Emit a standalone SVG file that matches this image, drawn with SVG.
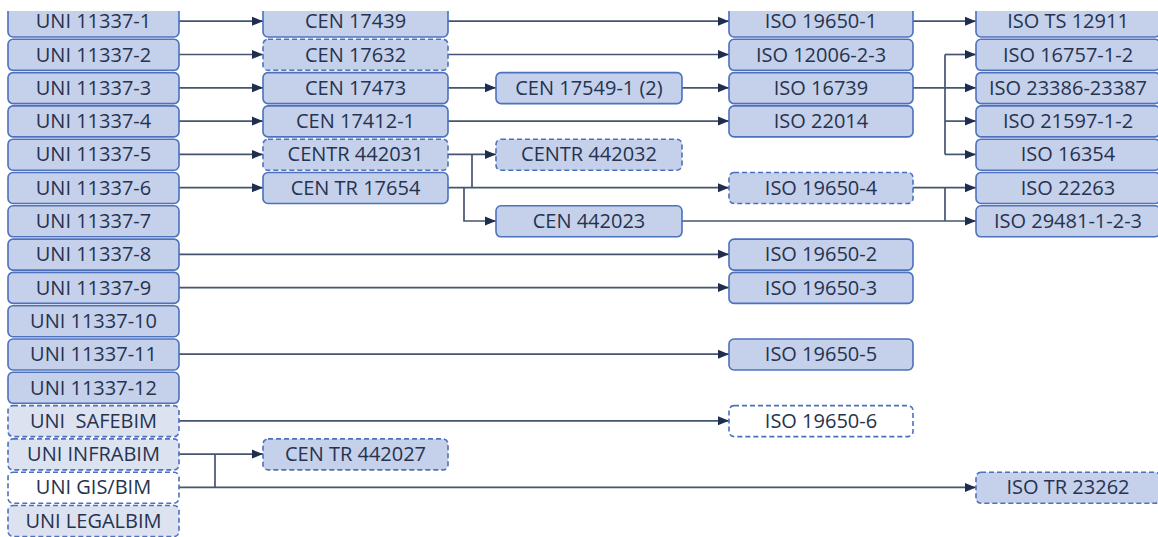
<svg xmlns="http://www.w3.org/2000/svg" width="1158" height="537" viewBox="0 0 1158 537">
<defs>
<style>
.n{fill:#c5d0ea;stroke:#4d71bd;stroke-width:1.6}
.d{stroke-dasharray:5 3}
.l{fill:#dde2f1}
.w{fill:#ffffff}
.t{font-family:"Open Sans","Liberation Sans",sans-serif;font-size:20px;fill:#26334f;text-anchor:middle}
.c{fill:none;stroke:#45546f;stroke-width:1.7}
.a{marker-end:url(#ah)}
</style>
<marker id="ah" markerUnits="userSpaceOnUse" markerWidth="12" markerHeight="10" refX="11" refY="5" orient="auto">
<path d="M0,0.5 L11,5 L0,9.5 z" fill="#1f2e4f"/>
</marker>
<clipPath id="cp"><rect x="0" y="11" width="1158" height="526"/></clipPath>
</defs>
<g clip-path="url(#cp)">
<g id="connectors">
<line class="c a" x1="179" y1="21.2" x2="263" y2="21.2"/>
<line class="c a" x1="179" y1="54.5" x2="263" y2="54.5"/>
<line class="c a" x1="179" y1="87.8" x2="263" y2="87.8"/>
<line class="c a" x1="179" y1="121.1" x2="263" y2="121.1"/>
<line class="c a" x1="179" y1="154.4" x2="263" y2="154.4"/>
<line class="c a" x1="179" y1="187.7" x2="263" y2="187.7"/>
<line class="c a" x1="448" y1="21.2" x2="729" y2="21.2"/>
<line class="c a" x1="448" y1="54.5" x2="729" y2="54.5"/>
<line class="c a" x1="448" y1="87.8" x2="496" y2="87.8"/>
<line class="c a" x1="682" y1="87.8" x2="729" y2="87.8"/>
<line class="c a" x1="448" y1="121.1" x2="729" y2="121.1"/>
<line class="c a" x1="448" y1="154.4" x2="496" y2="154.4"/>
<line class="c" x1="472" y1="154.4" x2="472" y2="187.7"/>
<line class="c a" x1="448" y1="187.7" x2="729" y2="187.7"/>
<polyline class="c a" points="464,187.7 464,221 496,221"/>
<line class="c a" x1="682" y1="221" x2="976" y2="221"/>
<line class="c a" x1="913" y1="187.7" x2="976" y2="187.7"/>
<line class="c" x1="945" y1="187.7" x2="945" y2="221"/>
<line class="c a" x1="913" y1="21.2" x2="976" y2="21.2"/>
<line class="c a" x1="913" y1="87.8" x2="976" y2="87.8"/>
<line class="c" x1="945" y1="54.5" x2="945" y2="154.4"/>
<line class="c a" x1="945" y1="54.5" x2="976" y2="54.5"/>
<line class="c a" x1="945" y1="121.1" x2="976" y2="121.1"/>
<line class="c a" x1="945" y1="154.4" x2="976" y2="154.4"/>
<line class="c a" x1="179" y1="254.3" x2="729" y2="254.3"/>
<line class="c a" x1="179" y1="287.6" x2="729" y2="287.6"/>
<line class="c a" x1="179" y1="354.2" x2="729" y2="354.2"/>
<line class="c a" x1="179" y1="420.8" x2="729" y2="420.8"/>
<line class="c a" x1="179" y1="454.1" x2="263" y2="454.1"/>
<line class="c" x1="215" y1="454.1" x2="215" y2="487.4"/>
<line class="c a" x1="179" y1="487.4" x2="976" y2="487.4"/>
</g>
<g id="uni1"><rect class="n" x="8" y="6" width="171" height="31" rx="5"/><text class="t" x="93.5" y="28.2">UNI 11337-1</text></g>
<g id="uni2"><rect class="n" x="8" y="39.3" width="171" height="31" rx="5"/><text class="t" x="93.5" y="61.5">UNI 11337-2</text></g>
<g id="uni3"><rect class="n" x="8" y="72.6" width="171" height="31" rx="5"/><text class="t" x="93.5" y="94.8">UNI 11337-3</text></g>
<g id="uni4"><rect class="n" x="8" y="105.9" width="171" height="31" rx="5"/><text class="t" x="93.5" y="128.1">UNI 11337-4</text></g>
<g id="uni5"><rect class="n" x="8" y="139.2" width="171" height="31" rx="5"/><text class="t" x="93.5" y="161.4">UNI 11337-5</text></g>
<g id="uni6"><rect class="n" x="8" y="172.5" width="171" height="31" rx="5"/><text class="t" x="93.5" y="194.7">UNI 11337-6</text></g>
<g id="uni7"><rect class="n" x="8" y="205.8" width="171" height="31" rx="5"/><text class="t" x="93.5" y="228">UNI 11337-7</text></g>
<g id="uni8"><rect class="n" x="8" y="239.1" width="171" height="31" rx="5"/><text class="t" x="93.5" y="261.3">UNI 11337-8</text></g>
<g id="uni9"><rect class="n" x="8" y="272.4" width="171" height="31" rx="5"/><text class="t" x="93.5" y="294.6">UNI 11337-9</text></g>
<g id="uni10"><rect class="n" x="8" y="305.7" width="171" height="31" rx="5"/><text class="t" x="93.5" y="327.9">UNI 11337-10</text></g>
<g id="uni11"><rect class="n" x="8" y="339" width="171" height="31" rx="5"/><text class="t" x="93.5" y="361.2">UNI 11337-11</text></g>
<g id="uni12"><rect class="n" x="8" y="372.3" width="171" height="31" rx="5"/><text class="t" x="93.5" y="394.5">UNI 11337-12</text></g>
<g id="safebim"><rect class="n d l" x="8" y="405.6" width="171" height="31" rx="5"/><text class="t" x="93.5" y="427.8" xml:space="preserve">UNI  SAFEBIM</text></g>
<g id="infrabim"><rect class="n d l" x="8" y="438.9" width="171" height="31" rx="5"/><text class="t" x="93.5" y="461.1">UNI INFRABIM</text></g>
<g id="gisbim"><rect class="n d w" x="8" y="472.2" width="171" height="31" rx="5"/><text class="t" x="93.5" y="494.4">UNI GIS/BIM</text></g>
<g id="legalbim"><rect class="n d l" x="8" y="505.5" width="171" height="31" rx="5"/><text class="t" x="93.5" y="527.7">UNI LEGALBIM</text></g>
<g id="cen17439"><rect class="n" x="263" y="6" width="185" height="31" rx="5"/><text class="t" x="355.5" y="28.2">CEN 17439</text></g>
<g id="cen17632"><rect class="n d" x="263" y="39.3" width="185" height="31" rx="5"/><text class="t" x="355.5" y="61.5">CEN 17632</text></g>
<g id="cen17473"><rect class="n" x="263" y="72.6" width="185" height="31" rx="5"/><text class="t" x="355.5" y="94.8">CEN 17473</text></g>
<g id="cen17412"><rect class="n" x="263" y="105.9" width="185" height="31" rx="5"/><text class="t" x="355.5" y="128.1">CEN 17412-1</text></g>
<g id="centr442031"><rect class="n d" x="263" y="139.2" width="185" height="31" rx="5"/><text class="t" x="355.5" y="161.4">CENTR 442031</text></g>
<g id="centr17654"><rect class="n" x="263" y="172.5" width="185" height="31" rx="5"/><text class="t" x="355.5" y="194.7">CEN TR 17654</text></g>
<g id="centr442027"><rect class="n d" x="263" y="438.9" width="185" height="31" rx="5"/><text class="t" x="355.5" y="461.1">CEN TR 442027</text></g>
<g id="cen17549"><rect class="n" x="496" y="72.6" width="186" height="31" rx="5"/><text class="t" x="589" y="94.8">CEN 17549-1 (2)</text></g>
<g id="centr442032"><rect class="n d" x="496" y="139.2" width="186" height="31" rx="5"/><text class="t" x="589" y="161.4">CENTR 442032</text></g>
<g id="cen442023"><rect class="n" x="496" y="205.8" width="186" height="31" rx="5"/><text class="t" x="589" y="228">CEN 442023</text></g>
<g id="iso19650-1"><rect class="n" x="729" y="6" width="184" height="31" rx="5"/><text class="t" x="821" y="28.2">ISO 19650-1</text></g>
<g id="iso12006"><rect class="n" x="729" y="39.3" width="184" height="31" rx="5"/><text class="t" x="821" y="61.5">ISO 12006-2-3</text></g>
<g id="iso16739"><rect class="n" x="729" y="72.6" width="184" height="31" rx="5"/><text class="t" x="821" y="94.8">ISO 16739</text></g>
<g id="iso22014"><rect class="n" x="729" y="105.9" width="184" height="31" rx="5"/><text class="t" x="821" y="128.1">ISO 22014</text></g>
<g id="iso19650-4"><rect class="n d" x="729" y="172.5" width="184" height="31" rx="5"/><text class="t" x="821" y="194.7">ISO 19650-4</text></g>
<g id="iso19650-2"><rect class="n" x="729" y="239.1" width="184" height="31" rx="5"/><text class="t" x="821" y="261.3">ISO 19650-2</text></g>
<g id="iso19650-3"><rect class="n" x="729" y="272.4" width="184" height="31" rx="5"/><text class="t" x="821" y="294.6">ISO 19650-3</text></g>
<g id="iso19650-5"><rect class="n" x="729" y="339" width="184" height="31" rx="5"/><text class="t" x="821" y="361.2">ISO 19650-5</text></g>
<g id="iso19650-6"><rect class="n d w" x="729" y="405.6" width="184" height="31" rx="5"/><text class="t" x="821" y="427.8">ISO 19650-6</text></g>
<g id="isots12911"><rect class="n" x="976" y="6" width="184" height="31" rx="5"/><text class="t" x="1068" y="28.2">ISO TS 12911</text></g>
<g id="iso16757"><rect class="n" x="976" y="39.3" width="184" height="31" rx="5"/><text class="t" x="1068" y="61.5">ISO 16757-1-2</text></g>
<g id="iso23386"><rect class="n" x="976" y="72.6" width="184" height="31" rx="5"/><text class="t" x="1068" y="94.8">ISO 23386-23387</text></g>
<g id="iso21597"><rect class="n" x="976" y="105.9" width="184" height="31" rx="5"/><text class="t" x="1068" y="128.1">ISO 21597-1-2</text></g>
<g id="iso16354"><rect class="n" x="976" y="139.2" width="184" height="31" rx="5"/><text class="t" x="1068" y="161.4">ISO 16354</text></g>
<g id="iso22263"><rect class="n" x="976" y="172.5" width="184" height="31" rx="5"/><text class="t" x="1068" y="194.7">ISO 22263</text></g>
<g id="iso29481"><rect class="n" x="976" y="205.8" width="184" height="31" rx="5"/><text class="t" x="1068" y="228">ISO 29481-1-2-3</text></g>
<g id="isotr23262"><rect class="n d" x="976" y="472.2" width="184" height="31" rx="5"/><text class="t" x="1068" y="494.4">ISO TR 23262</text></g>
</g>
</svg>
